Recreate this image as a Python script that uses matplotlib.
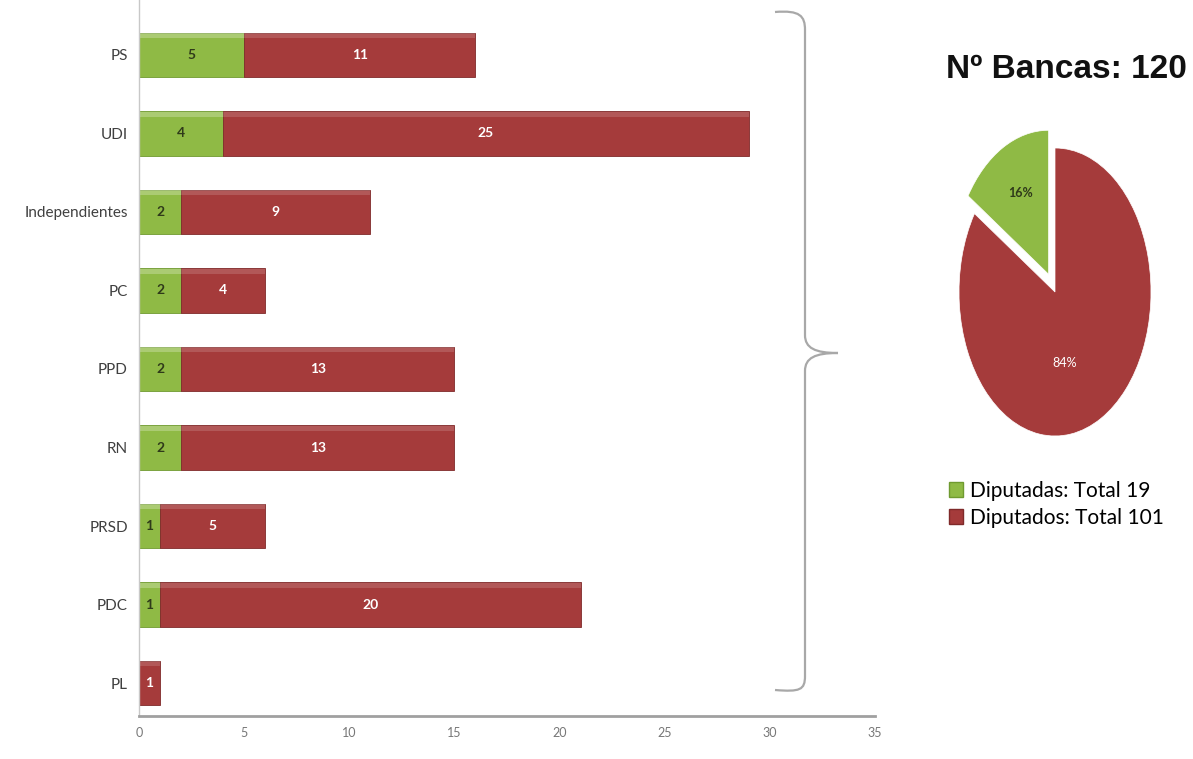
import matplotlib
matplotlib.use("Agg")
import matplotlib.pyplot as plt
import numpy as np
from matplotlib.path import Path
from matplotlib.patches import PathPatch, Patch
from matplotlib.transforms import Affine2D

# datos por partido (de arriba hacia abajo)
partidos = ['PS', 'UDI', 'Independientes', 'PC', 'PPD', 'RN', 'PRSD', 'PDC', 'PL']
diputadas = [5, 4, 2, 2, 2, 2, 1, 1, 0]
diputados = [11, 25, 9, 4, 13, 13, 5, 20, 1]

totales = [19, 101]
pct_labels = ['16%', '84%']
leyenda = ['Diputadas: Total 19', 'Diputados: Total 101']
titulo = 'Nº Bancas: 120'

verde = '#8fba45'
rojo = '#a53b3b'

W, H = 1193, 759
fig = plt.figure(figsize=(W / 100, H / 100), dpi=100)
fig.patch.set_facecolor('white')

# ---- barras ----
ax = fig.add_axes([139 / W, 1 - 716 / H, (875 - 139) / W, 716 / H])
y = np.arange(len(partidos))[::-1]
ax.barh(y, diputadas, height=0.57, color=verde, edgecolor='#6f9a30', linewidth=0.6)
ax.barh(y, diputados, left=diputadas, height=0.57, color=rojo, edgecolor='#7f2a2a', linewidth=0.6)
# brillo superior
ax.barh(y + 0.245, diputadas, height=0.06, color='white', alpha=0.25, linewidth=0)
ax.barh(y + 0.245, diputados, left=diputadas, height=0.06, color='white', alpha=0.15, linewidth=0)

for yi, m, h in zip(y, diputadas, diputados):
    if m > 0:
        ax.text(m / 2, yi, str(m), ha='center', va='center', fontsize=10,
                fontweight='bold', color='#2f3a1a', family='Lato')
    ax.text(m + h / 2, yi, str(h), ha='center', va='center', fontsize=10,
            fontweight='bold', color='white', family='Lato')

ax.set_xlim(0, 35)
ax.set_ylim(-0.42, 8.7)
ax.set_xticks(range(0, 36, 5))
ax.set_yticks(y)
ax.set_yticklabels(partidos, fontsize=11, color='#404040', family='Lato')
for lbl in ax.get_xticklabels():
    lbl.set_fontsize(9)
    lbl.set_color('#777777')
    lbl.set_family('Lato')
ax.tick_params(length=0, pad=8)
ax.tick_params(axis='x', pad=8)
for s in ['top', 'right']:
    ax.spines[s].set_visible(False)
ax.spines['left'].set_color('#c8c8c8')
ax.spines['left'].set_linewidth(1)
ax.spines['bottom'].set_color('#a0a0a0')
ax.spines['bottom'].set_linewidth(2)

# ---- llave ----
px = Affine2D().scale(1 / W, -1 / H).translate(0, 1) + fig.transFigure
verts = [(775, 12), (800, 10), (805, 16), (805, 30),
         (805, 335),
         (805, 348), (815, 353), (838, 353),
         (815, 353), (805, 358), (805, 371),
         (805, 676),
         (805, 690), (800, 692), (775, 690)]
codes = [Path.MOVETO, Path.CURVE4, Path.CURVE4, Path.CURVE4,
         Path.LINETO,
         Path.CURVE4, Path.CURVE4, Path.CURVE4,
         Path.CURVE4, Path.CURVE4, Path.CURVE4,
         Path.LINETO,
         Path.CURVE4, Path.CURVE4, Path.CURVE4]
fig.patches.append(PathPatch(Path(verts, codes), transform=px, fill=False,
                             edgecolor='#a8a8a8', linewidth=1.6))

# ---- torta ----
cx, cy, rx, ry = 1055, 292, 96, 144
pax = fig.add_axes([(cx - 1.25 * rx) / W, 1 - (cy + 1.25 * ry) / H,
                    2.5 * rx / W, 2.5 * ry / H])
wedges, _ = pax.pie(totales, colors=[verde, rojo], startangle=90, counterclock=True,
                    explode=[0.14, 0], wedgeprops=dict(edgecolor='white', linewidth=0.5))
pax.set_aspect('auto')
pax.set_xlim(-1.25, 1.25)
pax.set_ylim(-1.25, 1.25)
pax.text(-0.36, 0.69, pct_labels[0], ha='center', va='center', fontsize=9,
         fontweight='bold', color='#2f3a1a', family='Lato')
pax.text(0.10, -0.49, pct_labels[1], ha='center', va='center', fontsize=9,
         color='white', family='Lato')

fig.text(1187 / W, 1 - 70 / H, titulo, ha='right', va='center', fontsize=24,
         fontweight='bold', color='#111111', family='Liberation Sans')

handles = [Patch(facecolor=verde, edgecolor='#6f9a30'), Patch(facecolor=rojo, edgecolor='#7f2a2a')]
fig.legend(handles, leyenda, loc='upper left', bbox_to_anchor=(930 / W, 1 - 462 / H),
           frameon=False, handlelength=0.7, handleheight=0.7,
           handletextpad=0.3, labelspacing=0.35, prop={'family': 'Lato', 'size': 15})

fig.savefig('out.png', dpi=100, facecolor='white')
